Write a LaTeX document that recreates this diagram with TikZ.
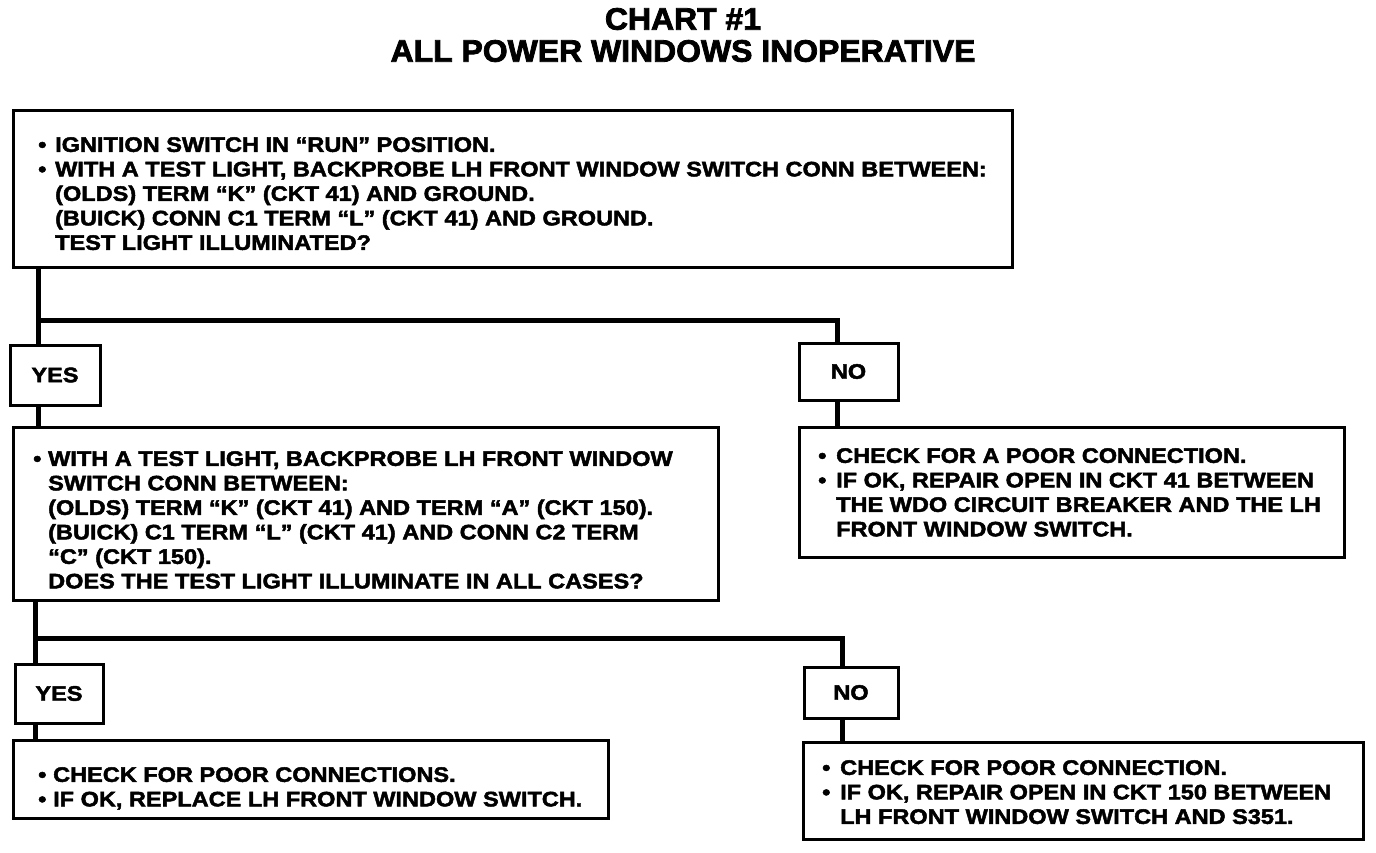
\documentclass[tikz,border=0pt]{standalone}
\usepackage{fontspec}
\newfontfamily\hv[FakeStretch=1.12,FakeBold=2.2]{Liberation Sans}
\newfontfamily\hvt[FakeStretch=1.03,FakeBold=2.5]{Liberation Sans}
\newcommand{\bul}[1]{\makebox[#1][l]{\textbullet}}
\newcommand{\ind}[1]{\hspace*{#1}}
\begin{document}
\begin{tikzpicture}[x=1pt,y=-1pt,
  box/.style={draw, line width=3pt, anchor=north west, inner sep=0pt, outer sep=0pt},
  lbl/.style={box, font=\hv\bfseries\fontsize{21}{24.5}\selectfont},
  txt/.style={anchor=north west, align=left, inner sep=0pt, font=\hv\bfseries\fontsize{21}{24.5}\selectfont},
  ttl/.style={inner sep=0pt, font=\hvt\bfseries\fontsize{31}{32}\selectfont},
  conn/.style={line width=5pt}]
\useasboundingbox (0,0) rectangle (1376,852);

% title
\node[ttl] (title1) at (683,19) {CHART \#1};
\node[ttl] (title2) at (683,51) {ALL POWER WINDOWS INOPERATIVE};

% boxes
\node[box, minimum width=999pt, minimum height=157pt] (b1) at (13,110) {};
\node[lbl, minimum width=90pt, minimum height=60pt] (yes1) at (10,345) {YES};
\node[lbl, minimum width=99pt, minimum height=57pt] (no1) at (799,343) {NO};
\node[box, minimum width=705pt, minimum height=173pt] (b2) at (13,427) {};
\node[box, minimum width=545pt, minimum height=130pt] (n1) at (799,427) {};
\node[lbl, minimum width=88pt, minimum height=59pt] (yes2) at (15,664) {YES};
\node[lbl, minimum width=94pt, minimum height=51pt] (no2) at (804,667) {NO};
\node[box, minimum width=595pt, minimum height=78pt] (y2) at (13,740) {};
\node[box, minimum width=560pt, minimum height=97pt] (n2) at (803,742) {};

% texts
\node[txt] (t1) at (38,137) {%
\bul{17pt}IGNITION SWITCH IN “RUN” POSITION.\\
\bul{17pt}WITH A TEST LIGHT, BACKPROBE LH FRONT WINDOW SWITCH CONN BETWEEN:\\
\ind{17pt}(OLDS) TERM “K” (CKT 41) AND GROUND.\\
\ind{17pt}(BUICK) CONN C1 TERM “L” (CKT 41) AND GROUND.\\
\ind{17pt}TEST LIGHT ILLUMINATED?};
\node[txt] (t2) at (33,451) {%
\bul{15pt}WITH A TEST LIGHT, BACKPROBE LH FRONT WINDOW\\
\ind{15pt}SWITCH CONN BETWEEN:\\
\ind{15pt}(OLDS) TERM “K” (CKT 41) AND TERM “A” (CKT 150).\\
\ind{15pt}(BUICK) C1 TERM “L” (CKT 41) AND CONN C2 TERM\\
\ind{15pt}“C” (CKT 150).\\
\ind{15pt}DOES THE TEST LIGHT ILLUMINATE IN ALL CASES?};
\node[txt] (t3) at (818,448) {%
\bul{18pt}CHECK FOR A POOR CONNECTION.\\
\bul{18pt}IF OK, REPAIR OPEN IN CKT 41 BETWEEN\\
\ind{18pt}THE WDO CIRCUIT BREAKER AND THE LH\\
\ind{18pt}FRONT WINDOW SWITCH.};
\node[txt] (t4) at (38,767) {%
\bul{15pt}CHECK FOR POOR CONNECTIONS.\\
\bul{15pt}IF OK, REPLACE LH FRONT WINDOW SWITCH.};
\node[txt] (t5) at (822,760) {%
\bul{18pt}CHECK FOR POOR CONNECTION.\\
\bul{18pt}IF OK, REPAIR OPEN IN CKT 150 BETWEEN\\
\ind{18pt}LH FRONT WINDOW SWITCH AND S351.};

% connectors
\coordinate (j1) at (38,320);
\coordinate (k1) at (837,320);
\coordinate (j2) at (35,638);
\coordinate (k2) at (842,638);
\draw[conn] (b1.south -| j1) -- (yes1.north -| j1);
\draw[conn] (j1) -- (k1) -- (no1.north -| k1);
\draw[conn] (yes1.south -| j1) -- (b2.north -| j1);
\draw[conn] (no1.south -| k1) -- (n1.north -| k1);
\draw[conn] (b2.south -| j2) -- (yes2.north -| j2);
\draw[conn] (j2) -- (k2) -- (no2.north -| k2);
\draw[conn] (yes2.south -| j2) -- (y2.north -| j2);
\draw[conn] (no2.south -| k2) -- (n2.north -| k2);
\end{tikzpicture}
\end{document}
